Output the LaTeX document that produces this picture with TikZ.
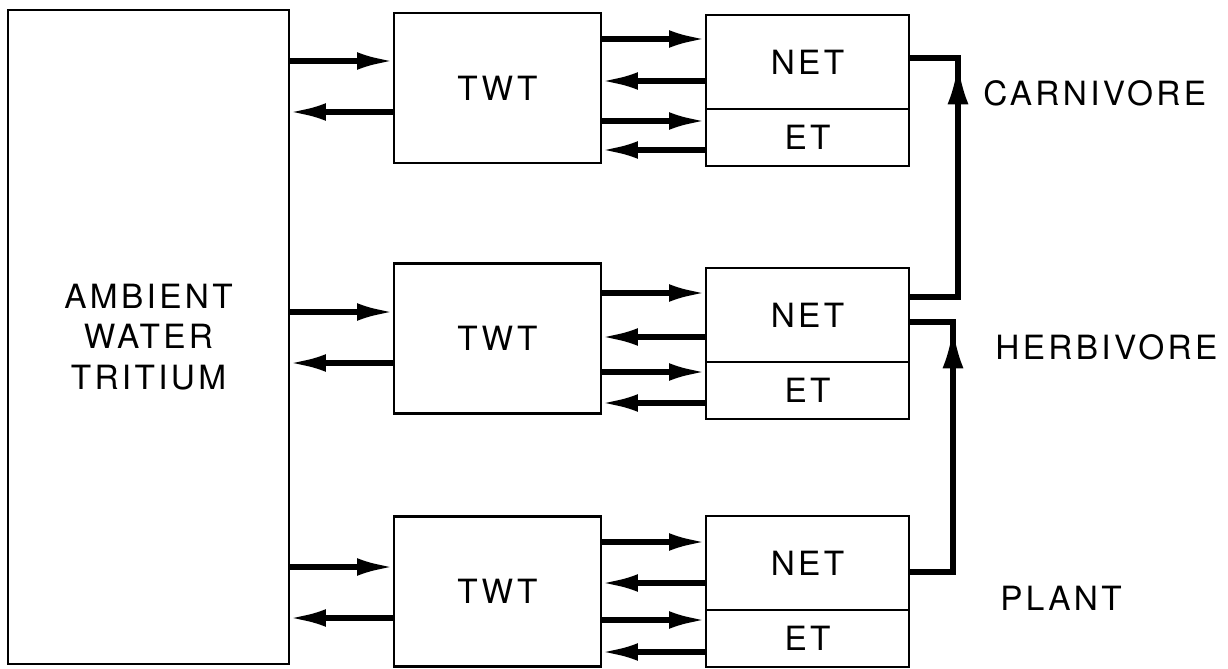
\documentclass[tikz,border=0pt]{standalone}
\usepackage{fontspec}
\setmainfont{TeX Gyre Heros}[LetterSpace=10]
\usetikzlibrary{arrows.meta,positioning}
\tikzset{
  box/.style={draw,line width=1.5pt,inner sep=0pt,outer sep=0pt},
  flow/.style={line width=3pt,-{Latex[length=21pt,width=10pt]}},
  bigflow/.style={line width=3pt,-{Latex[length=23pt,width=12pt]}},
  route/.style={line width=3pt,line join=miter},
  lbl/.style={anchor=west,inner sep=0pt}
}
\begin{document}
\begin{tikzpicture}[x=0.02cm,y=-0.02cm,font=\fontsize{19}{23}\selectfont]
  \useasboundingbox (0,0) rectangle (1228,669);
  % reservoir
  \node[box,minimum width=5.62cm,minimum height=13.08cm,align=center] (amb) at (148.5,337) {AMBIENT\\WATER\\TRITIUM};
  % tissue water tritium
  \node[box,minimum width=4.14cm,minimum height=3cm] (twtA) at (497.5,88) {TWT};
  \node[box,minimum width=4.14cm,minimum height=3cm] (twtB) at (497.5,338.5) {TWT};
  \node[box,minimum width=4.14cm,minimum height=3cm] (twtC) at (497.5,591.5) {TWT};
  % organic tritium
  \node[box,minimum width=4.06cm,minimum height=1.88cm] (netA) at (807.5,62) {NET};
  \node[box,minimum width=4.06cm,minimum height=1.14cm,below=0pt of netA] (etA) {ET};
  \node[box,minimum width=4.06cm,minimum height=1.88cm] (netB) at (807.5,315) {NET};
  \node[box,minimum width=4.06cm,minimum height=1.14cm,below=0pt of netB] (etB) {ET};
  \node[box,minimum width=4.06cm,minimum height=1.88cm] (netC) at (807.5,563) {NET};
  \node[box,minimum width=4.06cm,minimum height=1.14cm,below=0pt of netC] (etC) {ET};
  \node[lbl] (carn) at (983,93) {CARNIVORE};
  \node[lbl] (herb) at (995,347) {HERBIVORE};
  \node[lbl] (plant) at (1000,598) {PLANT};
  \coordinate (upC) at (958,64);
  \coordinate (upH) at (953,328);
  % exchange with water
  \draw[flow] (amb.east |- 0,61) -- (twtA.west |- 0,61);
  \draw[flow] (twtA.west |- 0,112) -- (amb.east |- 0,112);
  \draw[flow] (amb.east |- 0,312) -- (twtB.west |- 0,312);
  \draw[flow] (twtB.west |- 0,363) -- (amb.east |- 0,363);
  \draw[flow] (amb.east |- 0,567) -- (twtC.west |- 0,567);
  \draw[flow] (twtC.west |- 0,618) -- (amb.east |- 0,618);
  % exchange with organic pools
  \draw[flow] (twtA.east |- 0,39) -- (netA.west |- 0,39);
  \draw[flow] (netA.west |- 0,81) -- (twtA.east |- 0,81);
  \draw[flow] (twtA.east |- 0,121) -- (etA.west |- 0,121);
  \draw[flow] (etA.west |- 0,150) -- (twtA.east |- 0,150);
  \draw[flow] (twtB.east |- 0,293) -- (netB.west |- 0,293);
  \draw[flow] (netB.west |- 0,337) -- (twtB.east |- 0,337);
  \draw[flow] (twtB.east |- 0,372) -- (etB.west |- 0,372);
  \draw[flow] (etB.west |- 0,403) -- (twtB.east |- 0,403);
  \draw[flow] (twtC.east |- 0,542) -- (netC.west |- 0,542);
  \draw[flow] (netC.west |- 0,583) -- (twtC.east |- 0,583);
  \draw[flow] (twtC.east |- 0,620) -- (etC.west |- 0,620);
  \draw[flow] (etC.west |- 0,652) -- (twtC.east |- 0,652);
  % food chain
  \draw[route] (netB.east |- 0,297) -| (upC) |- (netA.east |- 0,58);
  \draw[bigflow] (netB.east |- 0,297) -| (upC);
  \draw[route] (netC.east |- 0,572) -| (upH) |- (netB.east |- 0,322);
  \draw[bigflow] (netC.east |- 0,572) -| (upH);
\end{tikzpicture}
\end{document}
